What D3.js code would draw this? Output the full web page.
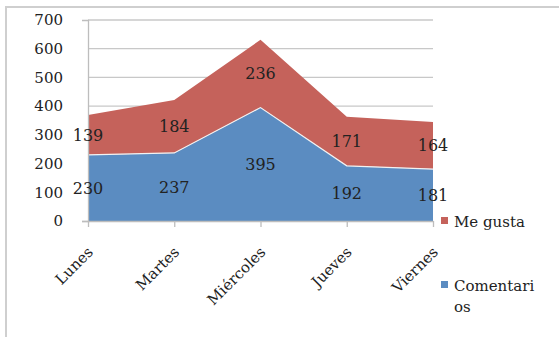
<!DOCTYPE html>
<html>
<head>
<meta charset="utf-8">
<script src="https://cdn.jsdelivr.net/npm/d3@7"></script>
<style>
  html, body { margin: 0; padding: 0; background: #fff; }
  svg { display: block; }
  text { font-family: "DejaVu Serif", "Liberation Serif", serif; fill: #222; }
</style>
</head>
<body>
<svg id="chart" width="559" height="337"></svg>
<script>
// Weekly activity: comments and likes per day, stacked
const categories = ["Lunes", "Martes", "Miércoles", "Jueves", "Viernes"];
const comentarios = [230, 237, 395, 192, 181];
const meGusta = [139, 184, 236, 171, 164];
const yTicks = [0, 100, 200, 300, 400, 500, 600, 700];
const seriesNames = ["Comentarios", "Me gusta"];
const legendLabels = [["Me gusta"], ["Comentari", "os"]];

const colors = { "Comentarios": "#5B8CC1", "Me gusta": "#C5625B" };

const svg = d3.select("#chart");
const margin = { left: 88, right: 126, top: 20, bottom: 116 };
const W = 559, H = 337;

// outer frame
svg.append("path")
  .attr("d", `M6,${H} L6,7 L${W},7`)
  .attr("fill", "none").attr("stroke", "#cfcfcf").attr("stroke-width", 2);

const x = d3.scalePoint().domain(categories)
  .range([margin.left, W - margin.right]);
const y = d3.scaleLinear().domain([0, 700])
  .range([H - margin.bottom, margin.top]);

// gridlines
svg.append("g").selectAll("line").data(yTicks.filter(d => d > 0)).join("line")
  .attr("x1", margin.left).attr("x2", W - margin.right)
  .attr("y1", d => y(d)).attr("y2", d => y(d))
  .attr("stroke", "#c8c8c8").attr("stroke-width", 1.3);

// stacked areas
const rows = categories.map((c, i) => ({ cat: c, "Comentarios": comentarios[i], "Me gusta": meGusta[i] }));
const stacked = d3.stack().keys(seriesNames)(rows);
const area = d3.area()
  .x(d => x(d.data.cat))
  .y0(d => y(d[0]))
  .y1(d => y(d[1]));

svg.append("g").selectAll("path").data(stacked).join("path")
  .attr("d", area)
  .attr("fill", s => colors[s.key]);

// thin light seam along top of the lower series
svg.append("path")
  .datum(stacked[0])
  .attr("d", d3.line().x(d => x(d.data.cat)).y(d => y(d[1])))
  .attr("fill", "none").attr("stroke", "#f2f2f2").attr("stroke-width", 1.2);

// y axis
const yAxis = svg.append("g").attr("transform", `translate(${margin.left},0)`)
  .call(d3.axisLeft(y).tickValues(yTicks).tickSize(6).tickPadding(19).tickFormat(d3.format("d")));
yAxis.select(".domain").attr("stroke", "#bdbdbd").attr("stroke-width", 1.3);
yAxis.selectAll(".tick line").attr("stroke", "#bdbdbd").attr("stroke-width", 1.3)
  .attr("x2", d => d === 0 ? -6 : 0);
yAxis.selectAll(".tick text").style("font-size", "15px").style("font-family", "DejaVu Serif, serif").attr("fill", "#222");

// x axis
const xAxis = svg.append("g").attr("transform", `translate(0,${y(0)})`)
  .call(d3.axisBottom(x).tickSize(6).tickSizeOuter(0).tickFormat(""));
xAxis.select(".domain").attr("stroke", "#bdbdbd").attr("stroke-width", 1.3);
xAxis.selectAll(".tick line").attr("stroke", "#bdbdbd").attr("stroke-width", 1.3);

svg.append("g").selectAll("text").data(categories).join("text")
  .attr("transform", d => `translate(${x(d) + 6},${y(0) + 32}) rotate(-45)`)
  .attr("text-anchor", "end")
  .style("font-size", "15px")
  .text(d => d);

// value labels, centred in each band
stacked.forEach(s => {
  svg.append("g").selectAll("text").data(s).join("text")
    .attr("x", d => x(d.data.cat))
    .attr("y", d => y((d[0] + d[1]) / 2))
    .attr("dy", "0.35em")
    .attr("text-anchor", "middle")
    .style("font-size", "16px")
    .text(d => d[1] - d[0]);
});

// legend
const legendItems = [
  { key: "Me gusta", lines: legendLabels[0], y: 222 },
  { key: "Comentarios", lines: legendLabels[1], y: 286 }
];
const lg = svg.append("g");
legendItems.forEach(it => {
  lg.append("rect").attr("x", 441).attr("y", it.y - 5).attr("width", 7).attr("height", 7)
    .attr("fill", colors[it.key]);
  const t = lg.append("text").attr("x", 454).attr("y", it.y)
    .style("font-size", "15px");
  it.lines.forEach((ln, i) => t.append("tspan").attr("x", 454).attr("dy", i === 0 ? "0.35em" : "1.4em").text(ln));
});
</script>
</body>
</html>
